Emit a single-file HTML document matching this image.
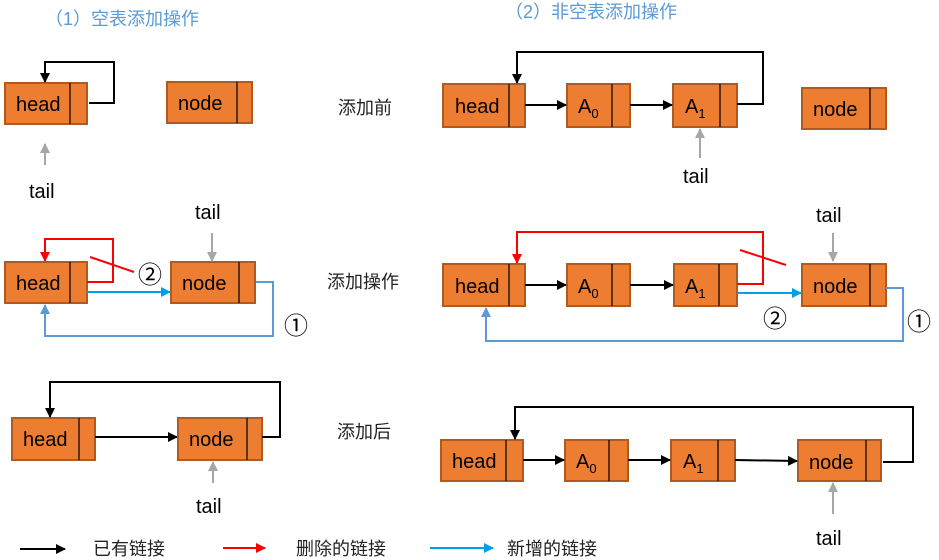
<!DOCTYPE html>
<html><head><meta charset="utf-8"><style>
html,body{margin:0;padding:0;background:#fff;}
svg{display:block;}
text{font-family:"Liberation Sans","Noto Sans CJK SC",sans-serif;}
.b{fill:#ED7D31;stroke:#AE5A21;stroke-width:2;}
.d{stroke:#000;stroke-width:1.2;}
.t{font-size:20px;fill:#000;}
.k{stroke:#000;stroke-width:2;fill:none;}
.r{stroke:#FF0000;stroke-width:2;fill:none;}
.c{stroke:#00A0E8;stroke-width:2;fill:none;}
.l{stroke:#5B9BD5;stroke-width:2;fill:none;}
.g{stroke:#A6A6A6;stroke-width:2;fill:none;}
.lab{font-size:18px;fill:#222;}
</style></head><body>
<svg width="939" height="560" viewBox="0 0 939 560" xmlns="http://www.w3.org/2000/svg">
<defs>
<marker id="mk" markerWidth="10" markerHeight="10" refX="9" refY="5" orient="auto" markerUnits="userSpaceOnUse"><path d="M0,0 L10,5 L0,10 z" fill="#000"/></marker>
<marker id="mr" markerWidth="10" markerHeight="10" refX="9" refY="5" orient="auto" markerUnits="userSpaceOnUse"><path d="M0,0 L10,5 L0,10 z" fill="#FF0000"/></marker>
<marker id="mc" markerWidth="10" markerHeight="10" refX="9" refY="5" orient="auto" markerUnits="userSpaceOnUse"><path d="M0,0 L10,5 L0,10 z" fill="#00A0E8"/></marker>
<marker id="ml" markerWidth="10" markerHeight="10" refX="9" refY="5" orient="auto" markerUnits="userSpaceOnUse"><path d="M0,0 L10,5 L0,10 z" fill="#5B9BD5"/></marker>
<marker id="mg" markerWidth="10" markerHeight="10" refX="9" refY="5" orient="auto" markerUnits="userSpaceOnUse"><path d="M0,0 L10,5 L0,10 z" fill="#A6A6A6"/></marker>
</defs>

<text x="45" y="25" font-size="18" fill="#5B9BD5">（1）空表添加操作</text>
<text x="505" y="18" font-size="18" fill="#5B9BD5">（2）非空表添加操作</text>

<text x="338" y="114" class="lab">添加前</text>
<text x="327" y="288" class="lab">添加操作</text>
<text x="337" y="438" class="lab">添加后</text>

<!-- Row1 left -->
<rect class="b" x="5" y="83" width="82" height="41"/><line class="d" x1="70" y1="83" x2="70" y2="124"/>
<text class="t" x="16" y="111">head</text>
<polyline class="k" points="89,103 114,103 114,62 45,62 45,82" marker-end="url(#mk)"/>
<rect class="b" x="167" y="82" width="85" height="41"/><line class="d" x1="237" y1="82" x2="237" y2="123"/>
<text class="t" x="178" y="110">node</text>
<line class="g" x1="45" y1="165" x2="45" y2="144" marker-end="url(#mg)"/>
<text class="t" x="29" y="198" font-size="22">tail</text>

<!-- Row1 right -->
<rect class="b" x="443" y="84" width="82" height="43"/><line class="d" x1="509" y1="84" x2="509" y2="127"/>
<text class="t" x="455" y="113">head</text>
<rect class="b" x="567" y="84" width="63" height="43"/><line class="d" x1="612" y1="84" x2="612" y2="127"/>
<text class="t" x="578" y="113">A<tspan font-size="13" dy="5">0</tspan></text>
<rect class="b" x="673" y="84" width="64" height="43"/><line class="d" x1="720" y1="84" x2="720" y2="127"/>
<text class="t" x="685" y="113">A<tspan font-size="13" dy="5">1</tspan></text>
<line class="k" x1="525" y1="105" x2="566" y2="105" marker-end="url(#mk)"/>
<line class="k" x1="630" y1="105" x2="672" y2="105" marker-end="url(#mk)"/>
<polyline class="k" points="737,104 763,104 763,52 517,52 517,83" marker-end="url(#mk)"/>
<rect class="b" x="802" y="88" width="84" height="41"/><line class="d" x1="870" y1="88" x2="870" y2="129"/>
<text class="t" x="813" y="116">node</text>
<line class="g" x1="700" y1="158" x2="700" y2="129" marker-end="url(#mg)"/>
<text class="t" x="683" y="183" font-size="22">tail</text>

<!-- Row2 left -->
<rect class="b" x="5" y="262" width="82" height="41"/><line class="d" x1="70" y1="262" x2="70" y2="303"/>
<text class="t" x="16" y="290">head</text>
<polyline class="r" points="87,282 113,282 113,239 45,239 45,261" marker-end="url(#mr)"/>
<line x1="90" y1="257" x2="134" y2="272" stroke="#FF0000" stroke-width="2"/>
<text x="138" y="283" font-size="24" fill="#000">②</text>
<line class="c" x1="87" y1="292" x2="170" y2="292" marker-end="url(#mc)"/>
<rect class="b" x="171" y="262" width="84" height="41"/><line class="d" x1="239" y1="262" x2="239" y2="303"/>
<text class="t" x="182" y="290">node</text>
<polyline class="l" points="256,282 273,282 273,336 45,336 45,305" marker-end="url(#ml)"/>
<text x="284" y="334" font-size="24" fill="#000">①</text>
<line class="g" x1="212" y1="233" x2="212" y2="261" marker-end="url(#mg)"/>
<text class="t" x="195" y="219" font-size="22">tail</text>

<!-- Row2 right -->
<rect class="b" x="443" y="264" width="82" height="42"/><line class="d" x1="509" y1="264" x2="509" y2="306"/>
<text class="t" x="455" y="293">head</text>
<rect class="b" x="567" y="264" width="63" height="42"/><line class="d" x1="612" y1="264" x2="612" y2="306"/>
<text class="t" x="578" y="293">A<tspan font-size="13" dy="5">0</tspan></text>
<rect class="b" x="674" y="264" width="63" height="42"/><line class="d" x1="719" y1="264" x2="719" y2="306"/>
<text class="t" x="685" y="293">A<tspan font-size="13" dy="5">1</tspan></text>
<line class="k" x1="525" y1="285" x2="566" y2="285" marker-end="url(#mk)"/>
<line class="k" x1="630" y1="285" x2="673" y2="285" marker-end="url(#mk)"/>
<polyline class="r" points="737,284 763,284 763,232 517,232 517,263" marker-end="url(#mr)"/>
<line x1="740" y1="250" x2="786" y2="265" stroke="#FF0000" stroke-width="2"/>
<line class="c" x1="737" y1="293" x2="801" y2="293" marker-end="url(#mc)"/>
<text x="763" y="327" font-size="24" fill="#000">②</text>
<rect class="b" x="802" y="264" width="84" height="42"/><line class="d" x1="870" y1="264" x2="870" y2="306"/>
<text class="t" x="813" y="293">node</text>
<polyline class="l" points="886,288 903,288 903,341 486,341 486,308" marker-end="url(#ml)"/>
<text x="907" y="330" font-size="24" fill="#000">①</text>
<line class="g" x1="833" y1="233" x2="833" y2="261" marker-end="url(#mg)"/>
<text class="t" x="816" y="222" font-size="22">tail</text>

<!-- Row3 left -->
<rect class="b" x="12" y="418" width="83" height="42"/><line class="d" x1="79" y1="418" x2="79" y2="460"/>
<text class="t" x="23" y="446">head</text>
<line class="k" x1="95" y1="437" x2="177" y2="437" marker-end="url(#mk)"/>
<rect class="b" x="178" y="418" width="84" height="42"/><line class="d" x1="247" y1="418" x2="247" y2="460"/>
<text class="t" x="189" y="446">node</text>
<polyline class="k" points="262,437 280,437 280,382 50,382 50,417" marker-end="url(#mk)"/>
<line class="g" x1="213" y1="483" x2="213" y2="462" marker-end="url(#mg)"/>
<text class="t" x="196" y="513" font-size="22">tail</text>

<!-- Row3 right -->
<rect class="b" x="441" y="440" width="82" height="41"/><line class="d" x1="506" y1="440" x2="506" y2="481"/>
<text class="t" x="452" y="468">head</text>
<rect class="b" x="565" y="440" width="63" height="41"/><line class="d" x1="609" y1="440" x2="609" y2="481"/>
<text class="t" x="576" y="468">A<tspan font-size="13" dy="5">0</tspan></text>
<rect class="b" x="671" y="440" width="64" height="41"/><line class="d" x1="718" y1="440" x2="718" y2="481"/>
<text class="t" x="683" y="468">A<tspan font-size="13" dy="5">1</tspan></text>
<rect class="b" x="798" y="440" width="83" height="41"/><line class="d" x1="866" y1="440" x2="866" y2="481"/>
<text class="t" x="809" y="469">node</text>
<line class="k" x1="523" y1="460" x2="564" y2="460" marker-end="url(#mk)"/>
<line class="k" x1="628" y1="460" x2="670" y2="460" marker-end="url(#mk)"/>
<line class="k" x1="735" y1="460" x2="797" y2="461" marker-end="url(#mk)"/>
<polyline class="k" points="883,462 913,462 913,407 515,407 515,439" marker-end="url(#mk)"/>
<line class="g" x1="833" y1="514" x2="833" y2="483" marker-end="url(#mg)"/>
<text class="t" x="816" y="545" font-size="22">tail</text>

<!-- Legend -->
<line class="k" x1="20" y1="549" x2="65" y2="549" marker-end="url(#mk)"/>
<text x="93" y="555" class="lab">已有链接</text>
<line class="r" x1="223" y1="548" x2="265" y2="548" marker-end="url(#mr)"/>
<text x="296" y="555" class="lab">删除的链接</text>
<line class="c" x1="430" y1="548" x2="493" y2="548" marker-end="url(#mc)"/>
<text x="507" y="555" class="lab">新增的链接</text>
</svg>
</body></html>
